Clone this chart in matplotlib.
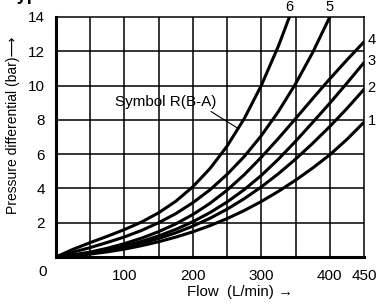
import matplotlib
matplotlib.use("Agg")
import matplotlib.pyplot as plt

plt.rcParams['font.family'] = ['Liberation Sans', 'DejaVu Sans']

# curves, flow (L/min) vs pressure differential (bar)
flow_6 = [0, 25, 50, 75, 100, 125, 150, 175, 200, 225, 250, 275, 300, 325, 341]
dp_6 = [0, 0.45, 0.84, 1.21, 1.60, 2.04, 2.58, 3.25, 4.10, 5.16, 6.47, 8.07, 10.01, 12.31, 14]

flow_5 = [0, 25, 50, 75, 100, 125, 150, 175, 200, 225, 250, 275, 300, 325, 350, 375, 400]
dp_5 = [0, 0.28, 0.55, 0.85, 1.17, 1.55, 2.0, 2.53, 3.17, 3.92, 4.82, 5.86, 7.08, 8.49, 10.10, 11.93, 14]

flow_4 = [0, 25, 50, 75, 100, 125, 150, 175, 200, 225, 250, 275, 300, 325, 350, 375, 400, 425, 450]
dp_4 = [0, 0.12, 0.29, 0.51, 0.78, 1.10, 1.48, 1.93, 2.48, 3.13, 3.90, 4.80, 5.82, 6.92, 8.07, 9.24, 10.39, 11.49, 12.55]

flow_3 = [0, 25, 50, 75, 100, 125, 150, 175, 200, 225, 250, 275, 300, 325, 350, 375, 400, 425, 450]
dp_3 = [0, 0.10, 0.24, 0.42, 0.64, 0.91, 1.23, 1.61, 2.06, 2.59, 3.21, 3.93, 4.76, 5.71, 6.75, 7.85, 8.97, 10.14, 11.34]

flow_2 = [0, 25, 50, 75, 100, 125, 150, 175, 200, 225, 250, 275, 300, 325, 350, 375, 400, 425, 450]
dp_2 = [0, 0.08, 0.20, 0.36, 0.56, 0.80, 1.08, 1.41, 1.80, 2.26, 2.79, 3.40, 4.09, 4.86, 5.71, 6.63, 7.61, 8.66, 9.78]

flow_1 = [0, 25, 50, 75, 100, 125, 150, 175, 200, 225, 250, 275, 300, 325, 350, 375, 400, 425, 450]
dp_1 = [0, 0.07, 0.17, 0.30, 0.46, 0.66, 0.89, 1.16, 1.47, 1.83, 2.24, 2.71, 3.24, 3.83, 4.48, 5.19, 5.96, 6.86, 7.86]

curves = [("1", flow_1, dp_1), ("2", flow_2, dp_2), ("3", flow_3, dp_3),
          ("4", flow_4, dp_4), ("5", flow_5, dp_5), ("6", flow_6, dp_6)]

x_ticks = [100, 200, 300, 400, 450]
y_ticks = [2, 4, 6, 8, 10, 12, 14]

fig = plt.figure(figsize=(3.84, 3.04), dpi=100)
ax = fig.add_axes([56 / 384, 47 / 304, 308 / 384, 240 / 304])
ax.set_xlim(0, 450)
ax.set_ylim(0, 14)

# grid
for gx in range(50, 450, 50):
    ax.axvline(gx, color='black', lw=1.1, zorder=1)
for gy in range(2, 14, 2):
    ax.axhline(gy, color='black', lw=1.1, zorder=1)

for name, fx, fy in curves:
    ax.plot(fx, fy, color='black', lw=2.2, solid_capstyle='round', zorder=3)
    if name in ("5", "6"):
        ax.text(fx[-1], fy[-1] + 0.15, name, ha='center', va='bottom', fontsize=10.5)
    else:
        ax.text(fx[-1] + 5, fy[-1] + 0.1, name, ha='left', va='center', fontsize=10.5)

ax.annotate("Symbol R(B-A)", xy=(266, 7.5), xytext=(160, 9.06),
            ha='center', va='center', fontsize=11,
            arrowprops=dict(arrowstyle='-', color='black', lw=0.8,
                            shrinkA=0, shrinkB=0, relpos=(0.86, 0.2)))

ax.set_xticks(x_ticks)
ax.set_xticklabels([str(v) for v in x_ticks])
ax.set_yticks(y_ticks)
ax.set_yticklabels([str(v) for v in y_ticks])
ax.tick_params(length=0, labelsize=11, pad=8)
ax.tick_params(axis='x', pad=9)

for side in ('left', 'bottom'):
    ax.spines[side].set_linewidth(2.2)
for side in ('top', 'right'):
    ax.spines[side].set_linewidth(1.1)

fig.text(43 / 384, 1 - 272 / 304, "0", ha='center', va='center', fontsize=11)
fig.text(240 / 384, 1 - 292 / 304, "Flow  (L/min) \u2192", ha='center', va='center', fontsize=10.8)
fig.text(13 / 384, 1 - 125 / 304, "Pressure differential (bar)\u27f6", rotation=90,
         ha='center', va='center', fontsize=10)
fig.text(8 / 384, 1.0, "Typical", ha='left', va='baseline', fontsize=13, fontweight='bold')

fig.savefig("out.png", dpi=100)
